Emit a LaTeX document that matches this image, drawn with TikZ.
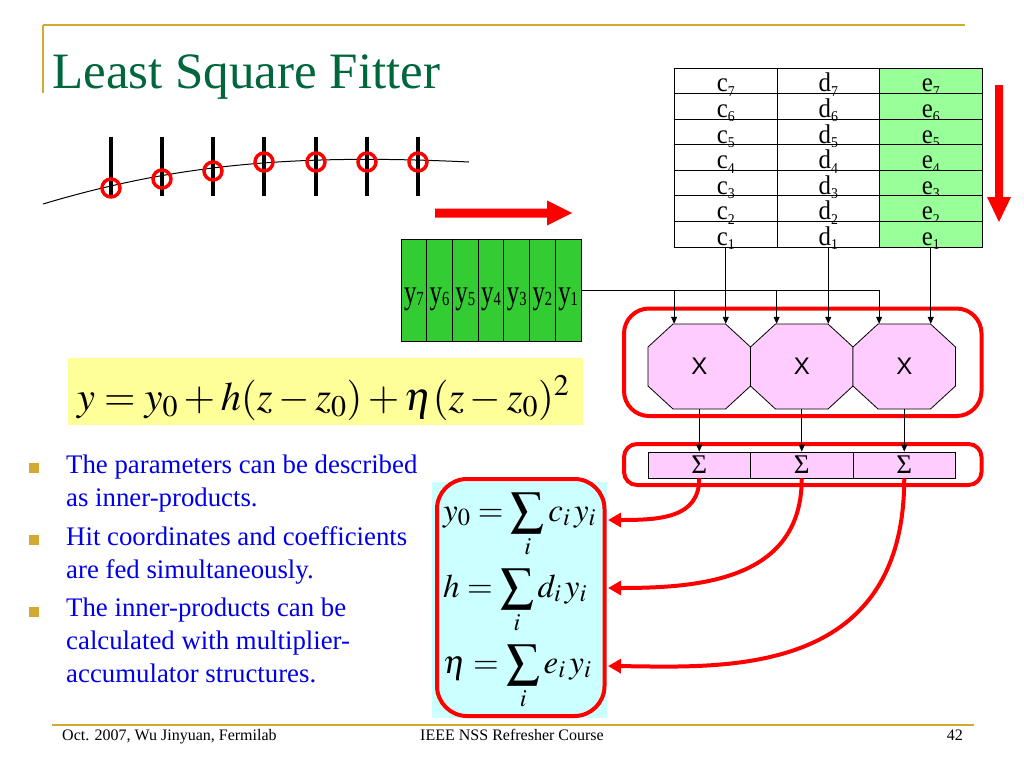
\documentclass[tikz,border=0pt]{standalone}
\usepackage{mathptmx}
\usepackage[no-math]{fontspec}
\setmainfont{Liberation Serif}
\newfontfamily\sansf{Liberation Sans}
\usetikzlibrary{arrows.meta,calc}
\definecolor{gold}{RGB}{210,170,50}
\definecolor{titlegreen}{RGB}{0,102,60}
\definecolor{ygreen}{RGB}{51,204,51}
\definecolor{egreen}{RGB}{153,255,153}
\definecolor{mpink}{RGB}{255,204,255}
\definecolor{eqyellow}{RGB}{255,255,153}
\definecolor{fcyan}{RGB}{204,255,255}
\definecolor{btext}{RGB}{0,0,230}
\definecolor{bred}{RGB}{255,0,0}
\newcommand\idx[2]{\scalebox{0.92}[1]{#1\raisebox{-0.16em}{\fontsize{15}{15}\selectfont #2}}}
\newcommand\yidx[1]{\scalebox{0.73}[1]{y\raisebox{-0.08em}{\fontsize{20}{20}\selectfont #1}}}
\tikzset{
  goldline/.style={draw=gold, line width=2pt},
  tcell/.style={draw, line width=0.8pt, minimum width=102.5pt, minimum height=25.571pt, inner sep=0pt,
    text height=22.4pt, text depth=0pt, font=\fontsize{27}{27}\selectfont},
  ycell/.style={draw, line width=0.8pt, fill=ygreen, minimum width=25.714pt, minimum height=102pt, inner sep=0pt,
    text height=26pt, text depth=0pt, font=\fontsize{34}{34}\selectfont},
  octn/.style={minimum width=102.5pt, minimum height=85pt, inner sep=0pt, font=\sansf\fontsize{24}{24}\selectfont},
  octa/.style={draw, line width=0.8pt, fill=mpink},
  scell/.style={draw, line width=0.8pt, fill=mpink, minimum width=102.5pt, minimum height=26pt, inner sep=0pt,
    font=\fontsize{27}{27}\selectfont},
  conn/.style={draw, line width=0.8pt, -{Triangle[length=7pt,width=6pt]}},
  thinline/.style={draw, line width=0.8pt},
  redbox/.style={draw=bred, line width=4pt},
  redarr/.style={draw=bred, line width=4pt, -{Triangle[length=13pt,width=14pt]}},
  bulletsq/.style={fill=gold, minimum size=10pt, inner sep=0pt},
  btxt/.style={anchor=base west, inner sep=0pt, align=left, text=btext, font=\fontsize{26.8}{33}\selectfont},
  foot/.style={inner sep=0pt, font=\fontsize{16}{16}\selectfont},
  fml/.style={anchor=base west, inner sep=0pt, font=\fontsize{33}{38}\selectfont},
}
\begin{document}
\begin{tikzpicture}[x=1pt,y=-1pt]
\fill[white] (0,0) rectangle (1024,768);
\useasboundingbox (0,0) rectangle (1024,768);

% frame lines
\draw[goldline] (43,25) -- (965,25);
\draw[goldline] (43,25) -- (43,93);
\draw[goldline] (52,725) -- (974,725);

% title
\node[anchor=base west, inner sep=0pt, text=titlegreen, font=\fontsize{51}{51}\selectfont] (title) at (52,88) {Least Square Fitter};

% track and hits
\draw[line width=1pt] (43,204) .. controls (180,163) and (300,154) .. (469,162);
\foreach \x/\y in {111/188,162/179,213/171,264/162,316/162,367/162,418/162}{
  \draw[line width=4pt] (\x,137) -- (\x,196);
  \draw[bred, line width=3.5pt] (\x,\y) circle (9);
}

% big red arrows
\fill[bred] (435,208.5) -- (547,208.5) -- (547,200.5) -- (572,213) -- (547,225.5) -- (547,217.5) -- (435,217.5) -- cycle;
\fill[bred] (995,85) -- (1003,85) -- (1003,197) -- (1011,197) -- (999,222) -- (987,197) -- (995,197) -- cycle;

% coefficient table
\foreach \k [count=\i from 0] in {7,...,1}{
  \node[tcell] (c\k) at (725.75,{80.786+25.571*\i}) {\idx{c}{\k}};
  \node[tcell] (d\k) at (828.25,{80.786+25.571*\i}) {\idx{d}{\k}};
  \node[tcell, fill=egreen] (e\k) at (930.75,{80.786+25.571*\i}) {\idx{e}{\k}};
}

% y register
\foreach \k [count=\i from 0] in {7,...,1}{
  \node[ycell] (y\k) at ({413.857+25.714*\i},290) {\yidx{\k}};
}

% equation
\fill[eqyellow] (68,358) rectangle (583,425);
\node[anchor=base west, inner sep=0pt, font=\fontsize{40.5}{44}\selectfont] (eq) at (77,410)
  {$y = y_0 + h(z - z_0) + \eta(z - z_0)^2$};

% multipliers
\draw[redbox, rounded corners=25pt] (624,308.5) rectangle (981.5,416);
\foreach \cx in {699.25,801.75,904.25}{
  \draw[octa] (\cx-26.25,324) -- (\cx+26.25,324) -- (\cx+51.25,347) -- (\cx+51.25,386)
    -- (\cx+26.25,409) -- (\cx-26.25,409) -- (\cx-51.25,386) -- (\cx-51.25,347) -- cycle;
}
\node[octn] (m1) at (699.25,366.5) {X};
\node[octn] (m2) at (801.75,366.5) {X};
\node[octn] (m3) at (904.25,366.5) {X};

% accumulators
\draw[redbox, rounded corners=13pt] (624,444) rectangle (981.5,485);
\node[scell] (s1) at (699.25,465) {Σ};
\node[scell] (s2) at (801.75,465) {Σ};
\node[scell] (s3) at (904.25,465) {Σ};

% feeds
\draw[conn] (c1.south) -- (c1.south |- m1.north);
\draw[conn] (d1.south) -- (d1.south |- m2.north);
\draw[conn] (e1.south) -- (e1.south |- m3.north);
\draw[thinline] (y1.east) -- (y1.east -| e1.south west);
\draw[conn] (y1.east -| c1.south west) -- (c1.south west |- m1.north);
\draw[conn] (y1.east -| d1.south west) -- (d1.south west |- m2.north);
\draw[conn] (y1.east -| e1.south west) -- (e1.south west |- m3.north);
\draw[conn] (m1.south) -- (s1.north);
\draw[conn] (m2.south) -- (s2.north);
\draw[conn] (m3.south) -- (s3.north);

% results box
\fill[fcyan] (432,482) rectangle (607,718);
\draw[redbox, rounded corners=30pt] (437,479) rectangle (604.5,716);
\node[fml] (f1) at (443,521) {$y_0 = \displaystyle\sum_i c_i\,y_i$};
\node[fml] (f2) at (443,597) {$h = \displaystyle\sum_i d_i\,y_i$};
\node[fml] (f3) at (443,673) {$\eta = \displaystyle\sum_i e_i\,y_i$};
\coordinate (t1) at (608,520);
\coordinate (t2) at (608,588);
\coordinate (t3) at (608,666);
\draw[redarr] (s1.south) .. controls (699.25,518) and (660,520) .. (t1);
\draw[redarr] (s2.south) .. controls (801.75,580) and (700,588) .. (t2);
\draw[redarr] (s3.south) .. controls (904.25,680) and (720,667) .. (t3);

% bullets
\node[bulletsq] (b1) at (34,468) {};
\node[bulletsq] (b2) at (34,540) {};
\node[bulletsq] (b3) at (34,612) {};
\node[btxt] (p1) at (66,506.5) {The parameters can be described\\as inner-products.};
\node[btxt] (p2) at (66,578) {Hit coordinates and coefficients\\are fed simultaneously.};
\node[btxt] (p3) at (66,682) {The inner-products can be\\calculated with multiplier-\\accumulator structures.};

% footer
\node[foot, anchor=base west] (fl) at (62,740) {Oct. 2007, Wu Jinyuan, Fermilab};
\node[foot, anchor=base] (fc) at (512,740) {IEEE NSS Refresher Course};
\node[foot, anchor=base east] (fr) at (963,740) {42};
\end{tikzpicture}
\end{document}
